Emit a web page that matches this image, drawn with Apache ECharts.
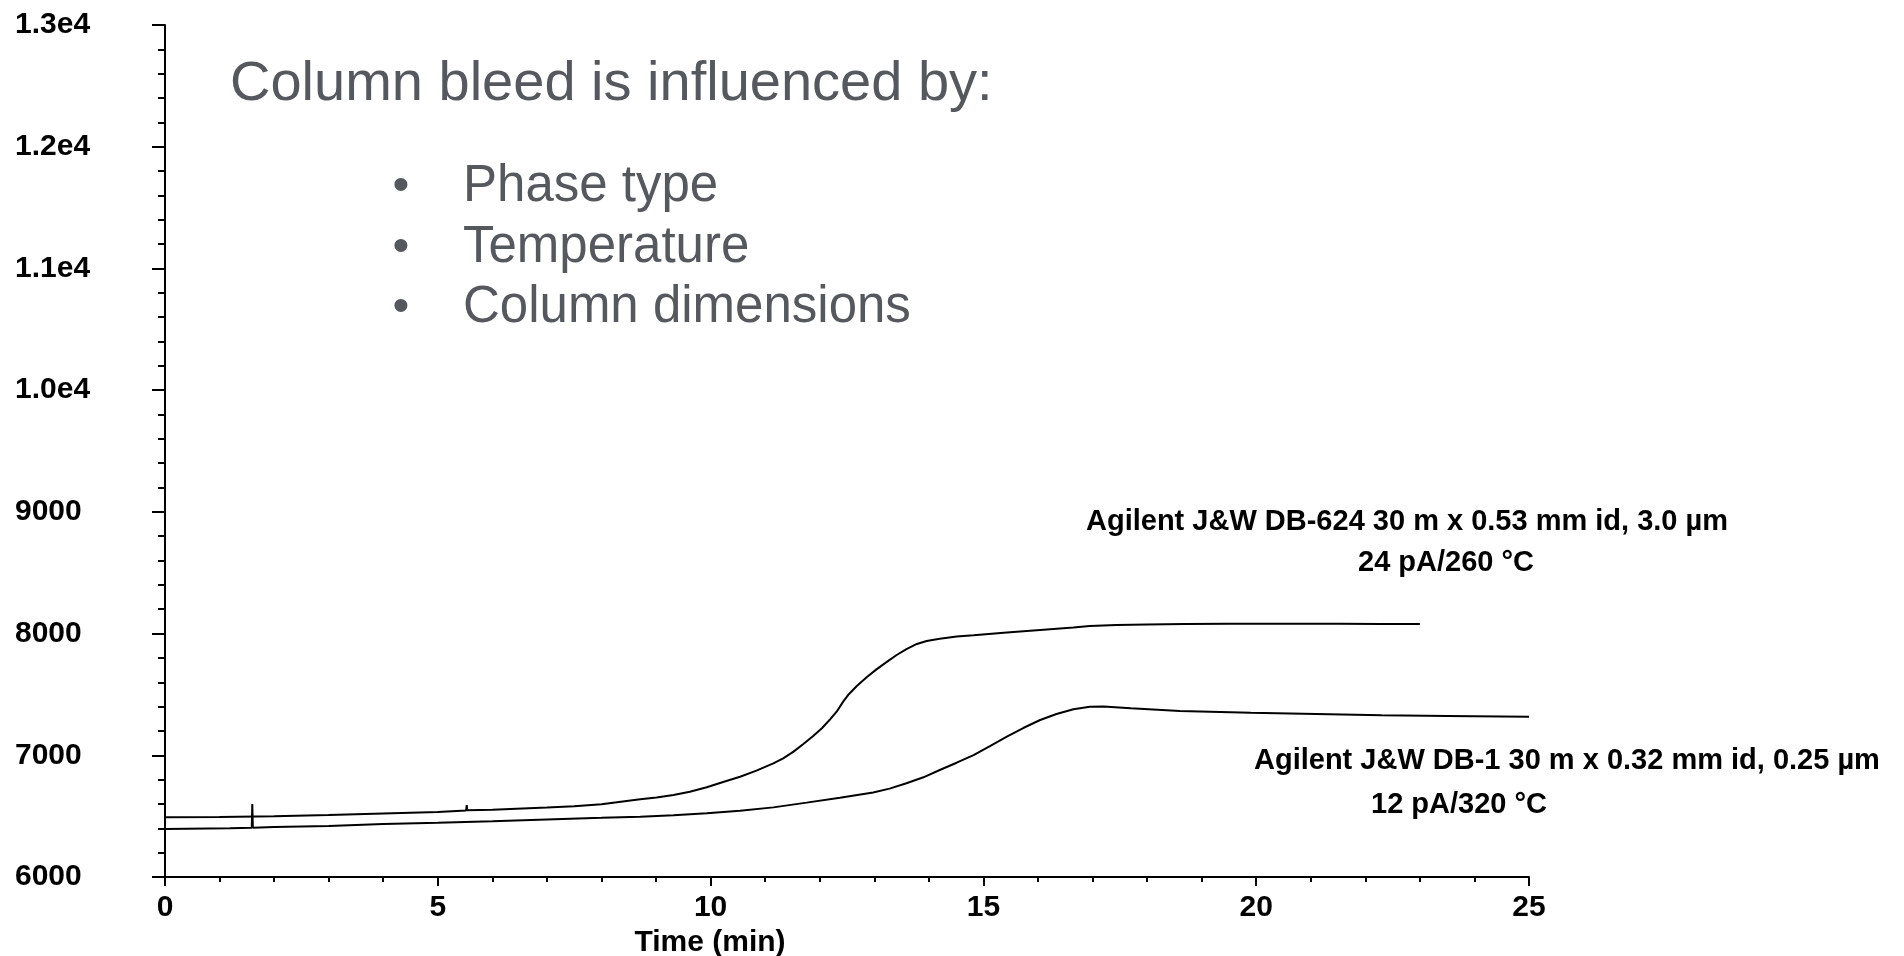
<!DOCTYPE html>
<html>
<head>
<meta charset="utf-8">
<script src="https://cdn.jsdelivr.net/npm/echarts@6/dist/echarts.min.js"></script>
<style>
html,body{margin:0;padding:0;background:#fff;}
#chart{width:1904px;height:956px;}
</style>
</head>
<body>
<div id="chart"></div>
<script>
// ---- Data ----
// Agilent J&W DB-624 trace (upper)
var db624Time   = [0, 1, 2, 3, 4, 5, 5.52, 5.53, 5.54, 6, 7, 7.5, 8, 8.71, 9.01, 9.32, 9.62, 9.93, 10.23, 10.54, 10.84, 11.15, 11.33, 11.52, 11.70, 11.88, 12.04, 12.19, 12.31, 12.43, 12.52, 12.68, 12.86, 13.04, 13.23, 13.41, 13.59, 13.78, 13.96, 14.20, 14.51, 14.82, 15.43, 16.04, 16.65, 16.95, 17.44, 18.0, 18.7, 19.5, 20.5, 21.5, 22.3, 23.0];
var db624Signal = [6490, 6493, 6500, 6510, 6522, 6535, 6547, 6590, 6548, 6552, 6570, 6582, 6598, 6638, 6654, 6674, 6701, 6737, 6781, 6824, 6874, 6934, 6975, 7030, 7093, 7159, 7222, 7295, 7358, 7441, 7495, 7569, 7641, 7706, 7767, 7824, 7873, 7915, 7939, 7958, 7975, 7986, 8008, 8030, 8049, 8062, 8071, 8075, 8079, 8080, 8081, 8080, 8079, 8079];
// Agilent J&W DB-1 trace (lower)
var db1Time   = [0, 1.19, 1.59, 1.6, 1.61, 2, 3, 4, 5, 6, 7, 8, 8.71, 9.32, 9.93, 10.54, 11.15, 11.76, 12.37, 12.98, 13.28, 13.59, 13.90, 14.20, 14.51, 14.82, 15.12, 15.43, 15.73, 16.04, 16.34, 16.65, 16.95, 17.2, 17.7, 18.6, 19.9, 21.1, 22.3, 23.5, 25.0];
var db1Signal = [6394, 6400, 6404, 6600, 6404, 6410, 6420, 6435, 6445, 6458, 6473, 6486, 6496, 6507, 6523, 6545, 6572, 6611, 6652, 6695, 6726, 6770, 6819, 6879, 6939, 7002, 7076, 7153, 7224, 7290, 7339, 7378, 7399, 7401, 7386, 7364, 7350, 7339, 7329, 7323, 7317];
// Tick labels
var yTickValues = [6000, 7000, 8000, 9000, 10000, 11000, 12000, 13000];
var yTickLabels = ['6000', '7000', '8000', '9000', '1.0e4', '1.1e4', '1.2e4', '1.3e4'];
var xTickValues = [0, 5, 10, 15, 20, 25];
var xTickLabels = ['0', '5', '10', '15', '20', '25'];
// Texts
var headline = 'Column bleed is influenced by:';
var bulletItems = ['Phase type', 'Temperature', 'Column dimensions'];
var db624Label = ['Agilent J&W DB-624 30 m x 0.53 mm id, 3.0 µm', '24 pA/260 °C'];
var db1Label = ['Agilent J&W DB-1 30 m x 0.32 mm id, 0.25 µm', '12 pA/320 °C'];
var xAxisTitle = 'Time (min)';

function zip(a, b) { var r = []; for (var i = 0; i < a.length; i++) r.push([a[i], b[i]]); return r; }

var FONT = '"Liberation Sans", Arial, Helvetica, sans-serif';
var GRAY = '#55585d';

var graphics = [];
graphics.push({type:'text', x:230, y:85, style:{text:headline, font:'56px ' + FONT, fill:GRAY, align:'left', verticalAlign:'middle'}});
var bulletY = [187, 247.5, 308];
for (var i = 0; i < bulletItems.length; i++) {
  graphics.push({type:'text', x:401, y:bulletY[i], style:{text:'•', font:'48px ' + FONT, fill:GRAY, align:'center', verticalAlign:'middle'}});
  graphics.push({type:'text', x:463, y:bulletY[i], style:{text:bulletItems[i], font:'51px ' + FONT, fill:GRAY, align:'left', verticalAlign:'middle'}});
}
graphics.push({type:'text', x:1086, y:522, style:{text:db624Label[0], font:'bold 29px ' + FONT, fill:'#000', align:'left', verticalAlign:'middle'}});
graphics.push({type:'text', x:1358, y:563, style:{text:db624Label[1], font:'bold 29px ' + FONT, fill:'#000', align:'left', verticalAlign:'middle'}});
graphics.push({type:'text', x:1254, y:761, style:{text:db1Label[0], font:'bold 29px ' + FONT, fill:'#000', align:'left', verticalAlign:'middle'}});
graphics.push({type:'text', x:1371, y:805, style:{text:db1Label[1], font:'bold 29px ' + FONT, fill:'#000', align:'left', verticalAlign:'middle'}});

var chart = echarts.init(document.getElementById('chart'), null, {renderer:'canvas'});
chart.setOption({
  animation: false,
  backgroundColor: '#fff',
  grid: {left:165, top:25, width:1364, height:852, containLabel:false, outerBoundsMode:'none'},
  xAxis: {
    type: 'value', min: 0, max: 25, interval: 5,
    name: xAxisTitle, nameLocation: 'middle', nameGap: 42,
    nameTextStyle: {fontFamily: FONT, fontSize: 30, fontWeight: 'bold', color: '#000', padding: [0, 274, 0, 0]},
    axisLine: {show: true, onZero: false, lineStyle: {color: '#000', width: 2}},
    axisTick: {show: true, length: 9, lineStyle: {color: '#000', width: 2}},
    minorTick: {show: true, splitNumber: 5, length: 5, lineStyle: {color: '#000', width: 2}},
    splitLine: {show: false},
    axisLabel: {
      margin: 16, fontFamily: FONT, fontSize: 30, fontWeight: 'bold', color: '#000',
      formatter: function (v) { var k = xTickValues.indexOf(v); return k >= 0 ? xTickLabels[k] : ''; }
    }
  },
  yAxis: {
    type: 'value', min: 6000, max: 13000, interval: 1000,
    axisLine: {show: true, onZero: false, lineStyle: {color: '#000', width: 2}},
    axisTick: {show: true, length: 13, lineStyle: {color: '#000', width: 2}},
    minorTick: {show: true, splitNumber: 5, length: 7, lineStyle: {color: '#000', width: 2}},
    splitLine: {show: false},
    axisLabel: {
      margin: 150, align: 'left', padding: [0, 0, 6, 0],
      fontFamily: FONT, fontSize: 30, fontWeight: 'bold', color: '#000',
      formatter: function (v) { var k = yTickValues.indexOf(v); return k >= 0 ? yTickLabels[k] : ''; }
    }
  },
  series: [
    {name: 'DB-624', type: 'line', data: zip(db624Time, db624Signal), showSymbol: false, symbol: 'none',
     lineStyle: {color: '#000', width: 2}, itemStyle: {color: '#000'}},
    {name: 'DB-1', type: 'line', data: zip(db1Time, db1Signal), showSymbol: false, symbol: 'none',
     lineStyle: {color: '#000', width: 2}, itemStyle: {color: '#000'}}
  ],
  graphic: graphics
});
</script>
</body>
</html>
